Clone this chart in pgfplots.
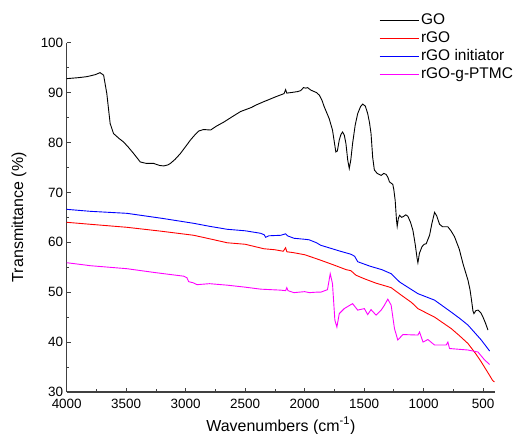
\documentclass[border=0pt]{standalone}
\usepackage{pgfplots}
\pgfplotsset{compat=1.18}
\usepackage{fontspec}
\setmainfont{Liberation Sans}
\definecolor{goRed}{RGB}{255,0,0}
\definecolor{goBlue}{RGB}{0,0,255}
\definecolor{goMag}{RGB}{255,0,255}

\begin{document}
\begin{tikzpicture}
\begin{axis}[
  name=ax,
  scale only axis,
  width=428bp, height=349bp,
  x dir=reverse,
  xmin=400, xmax=4000,
  ymin=30, ymax=100,
  xtick={500,1000,...,4000},
  ytick={30,40,...,100},
  minor x tick num=1,
  minor y tick num=1,
  axis lines=left,
  axis line style={-, line width=1.2bp, black!75},
  tick style={black!75, line width=0.8bp},
  tick align=inside,
  major tick length=4bp,
  minor tick length=2.5bp,
  ticklabel style={font=\fontsize{13.5}{14}\selectfont},
  xticklabel style={yshift=-4bp},
  /pgf/number format/assume math mode=true,
  /pgf/number format/1000 sep={},
  xlabel={Wavenumbers (cm\textsuperscript{-1})},
  ylabel={Transmittance (\%)},
  label style={font=\fontsize{16}{18}\selectfont},
  xlabel style={at={(axis description cs:0.5,-0.097)}, anchor=center},
  ylabel style={at={(axis description cs:-0.1115,0.5)}, anchor=center},
  legend style={at={(axis description cs:1.047,1.088)}, anchor=north east,
    draw=none, fill=none, inner sep=0pt,
    font=\fontsize{15.5}{16}\selectfont,
    row sep=1.5bp, cells={anchor=west}},
  legend image code/.code={\draw[#1] (0bp,0bp) -- (39bp,0bp);},
  every axis plot/.append style={line width=0.9bp},
]
\addplot[black] coordinates {
(4000,92.8)(3900,93.0)(3830,93.2)(3760,93.6)(3720,94.0)(3690,93.5)(3663,89.8)
(3635,83.8)(3607,81.8)(3560,80.8)(3522,80.1)(3480,79.0)(3438,77.8)(3382,76.1)
(3330,75.8)(3269,75.8)(3220,75.4)(3185,75.3)(3150,75.5)(3129,75.8)(3090,76.6)
(3044,77.8)(3000,79.2)(2960,80.5)(2920,81.6)(2890,82.3)(2850,82.6)(2791,82.5)
(2740,83.3)(2679,84.1)(2600,85.3)(2539,86.2)(2450,87.0)(2400,87.6)(2342,88.2)
(2300,88.6)(2250,89.1)(2173,89.8)(2160,90.6)(2150,89.9)(2117,90.0)(2060,90.2)
(2033,90.4)(2010,91.0)(1990,90.9)(1975,91.0)(1948,90.5)(1900,90.0)(1877,89.5)
(1855,88.5)(1836,87.2)(1815,86.0)(1794,84.8)(1766,82.5)(1750,80.0)(1738,78.1)
(1725,78.3)(1709,80.5)(1695,81.6)(1681,82.1)(1667,81.5)(1653,79.8)(1638,76.5)
(1625,74.8)(1612,76.5)(1597,79.8)(1575,83.5)(1554,85.8)(1530,87.2)(1512,87.7)
(1490,87.3)(1470,85.8)(1455,84.0)(1442,81.8)(1428,77.0)(1414,74.5)(1390,73.8)
(1357,73.4)(1335,73.8)(1315,73.6)(1300,73.0)(1287,72.1)(1259,71.6)(1250,70.5)
(1239,68.4)(1228,64.5)(1222,63.2)(1212,64.8)(1202,65.4)(1185,65.0)(1174,65.1)
(1150,65.5)(1132,65.2)(1110,64.0)(1090,62.4)(1070,59.5)(1055,56.8)(1048,55.9)
(1035,57.8)(1014,59.1)(995,59.6)(978,59.7)(965,60.5)(950,61.4)(930,63.8)
(908,66.0)(890,65.3)(866,63.6)(840,63.1)(796,63.1)(770,62.3)(740,61.1)
(700,58.6)(669,55.7)(645,53.8)(627,52.4)(610,50.5)(599,48.7)(585,46.2)
(577,45.7)(560,46.3)(543,46.4)(520,45.9)(501,45.0)(480,43.8)(459,42.4)
};
\addlegendentry{GO}
\addplot[goRed] coordinates {
(4000,64.0)(3800,63.6)(3494,63.0)(3200,62.2)(3000,61.6)(2933,61.4)(2800,60.7)
(2651,59.9)(2500,59.6)(2343,58.7)(2250,58.5)(2180,58.2)(2160,58.9)(2150,58.1)
(2090,57.9)(2000,57.5)(1950,57.1)(1865,56.4)(1750,55.4)(1650,54.5)(1611,54.3)
(1569,53.4)(1500,52.7)(1400,51.8)(1300,51.1)(1273,50.9)(1188,49.4)(1100,47.9)
(1048,46.7)(950,45.5)(908,45.0)(768,42.7)(700,41.3)(627,39.7)(560,37.6)
(515,36.0)(445,33.3)(420,32.3)(405,32.0)
};
\addlegendentry{rGO}
\addplot[goBlue] coordinates {
(4000,66.6)(3800,66.2)(3494,65.8)(3200,64.8)(2933,63.8)(2800,63.2)(2651,62.6)
(2500,62.3)(2370,61.8)(2340,61.5)(2328,61.0)(2300,61.3)(2200,61.4)(2160,61.7)
(2145,61.3)(2090,60.8)(2000,60.6)(1963,60.5)(1900,59.9)(1865,59.4)(1700,58.2)
(1611,57.6)(1580,57.2)(1554,56.1)(1450,55.2)(1350,54.5)(1273,53.7)(1200,52.0)
(1048,49.7)(908,48.4)(768,46.0)(700,44.8)(627,43.4)(515,40.4)(445,38.2)
};
\addlegendentry{rGO initiator}
\addplot[goMag] coordinates {
(4000,55.9)(3800,55.3)(3494,54.7)(3250,53.9)(3017,53.2)(2990,52.9)(2975,52.1)
(2940,51.9)(2904,51.5)(2800,51.7)(2651,51.4)(2500,51.0)(2370,50.6)(2200,50.4)
(2160,50.3)(2150,50.9)(2140,50.3)(2090,49.9)(2000,50.1)(1960,49.9)(1900,50.0)
(1864,50.0)(1808,50.5)(1785,53.7)(1766,51.7)(1746,44.4)(1729,43.0)(1709,45.7)
(1667,46.7)(1597,47.7)(1554,46.4)(1498,46.7)(1470,45.5)(1442,46.5)(1400,45.4)
(1357,46.4)(1329,47.4)(1301,48.6)(1273,47.4)(1245,42.7)(1217,40.4)(1174,41.5)
(1048,41.4)(1034,42.0)(1005,40.0)(964,40.5)(908,39.4)(810,39.4)(796,40.0)
(782,38.7)(627,38.4)(543,38.0)(487,36.4)(445,35.5)
};
\addlegendentry{rGO-g-PTMC}
\end{axis}
\pgfresetboundingbox
\path[use as bounding box] ([xshift=-66.7bp,yshift=-41.3bp]ax.south west)
  rectangle ([xshift=21bp,yshift=42.7bp]ax.north east);
\end{tikzpicture}
\end{document}
